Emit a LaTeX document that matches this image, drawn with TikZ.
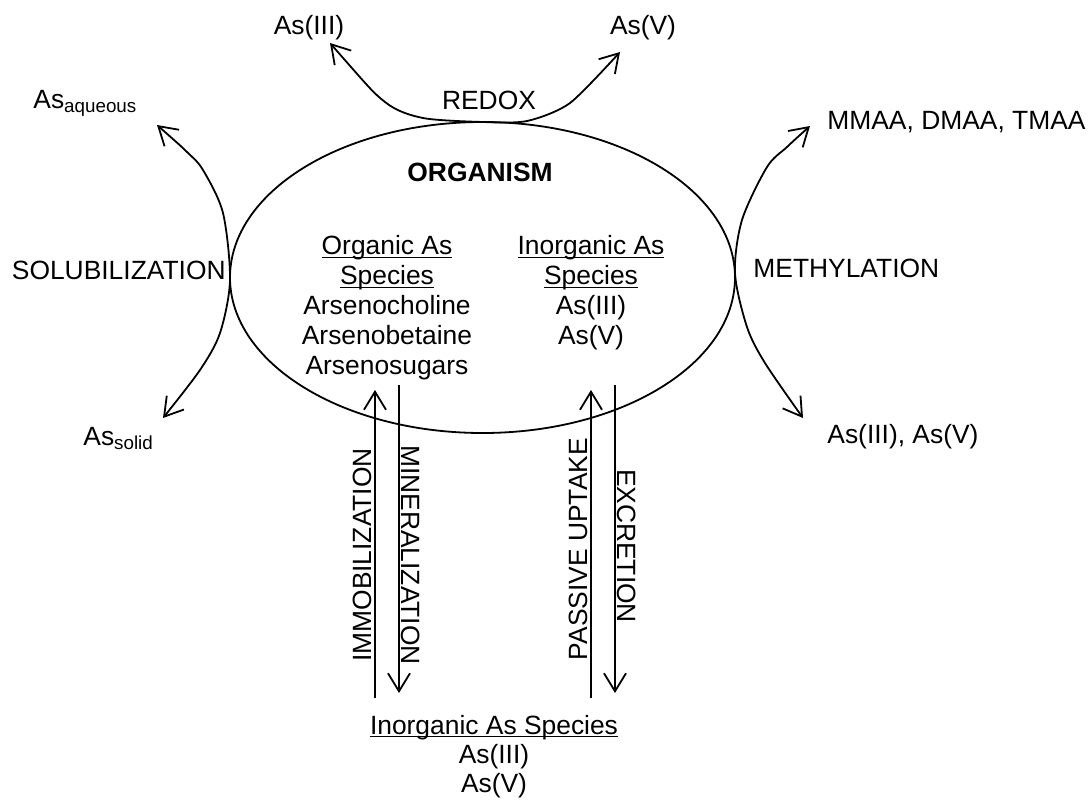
\documentclass[tikz,border=0pt]{standalone}
\usepackage{fontspec}
\setmainfont{Liberation Sans}
\usetikzlibrary{shapes.geometric,arrows.meta}
\newcommand{\myul}[1]{\underline{\smash{#1}}}
\newcommand{\mysub}[1]{\raisebox{-2.2pt}{\fontsize{9.4}{9.4}\selectfont #1}}
\begin{document}
\begin{tikzpicture}[x=0.5pt,y=-0.5pt,
  txt/.style={inner sep=0pt, font=\fontsize{13.2}{15}\selectfont},
  flow/.style={line width=0.9pt, arrows={Straight Barb[length=9pt,width=11pt]-Straight Barb[length=9pt,width=11pt]}},
  oneway/.style={line width=0.9pt, -{Straight Barb[length=9pt,width=11pt]}}]
\useasboundingbox (0,0) rectangle (1089,800);
\fill[white] (0,0) rectangle (1089,800);

% organism ellipse
\node[draw, ellipse, line width=0.9pt, minimum width=252.5pt, minimum height=155.5pt, inner sep=0pt] (org) at (482.5,277.5) {};
\node[txt, font=\fontsize{13.2}{15}\selectfont\bfseries] (orgname) at (480,172) {ORGANISM};
\node[txt, align=center] (orgsp) at (387,317) {\myul{Organic As}\\\myul{Species}\\Arsenocholine\\Arsenobetaine\\Arsenosugars};
\node[txt, align=center] (inorgsp) at (591,302) {\myul{Inorganic As}\\\myul{Species}\\As(III)\\As(V)};

% top: redox
\node[txt] (as3top) at (309,28) {As(III)};
\node[txt] (as5top) at (643,28) {As(V)};
\node[txt] (redox) at (489,100) {REDOX};
\coordinate (r1) at (330,43);
\coordinate (r7) at (620,52);
\draw[flow] plot[smooth, tension=0.45] coordinates {(r1) (385,102) (423,118) (483,122) (527,121) (570,103) (r7)};

% left: solubilization
\node[txt, anchor=base west] (asaq) at (33,108) {As\mysub{aqueous}};
\node[txt, anchor=base west] (assol) at (83,445) {As\mysub{solid}};
\node[txt, anchor=east] (solub) at (226,270) {SOLUBILIZATION};
\coordinate (s1) at (157,125);
\coordinate (s8) at (163,418);
\draw[flow] plot[smooth, tension=0.5] coordinates {(s1) (187,152) (203,170) (223,213) (230,280) (220,333) (200,370) (s8)};

% right: methylation
\node[txt, anchor=west] (mmaa) at (827,122) {MMAA, DMAA, TMAA};
\node[txt, anchor=west] (meth) at (753,268) {METHYLATION};
\node[txt, anchor=west] (as35) at (827,437) {As(III), As(V)};
\coordinate (m1) at (810,126);
\coordinate (m8) at (803,418);
\draw[flow] plot[smooth, tension=0.5] coordinates {(m1) (787,147) (767,167) (742,220) (735,273) (747,327) (765,363) (m8)};

% bottom
\node[txt, align=center, font=\fontsize{13.2}{14.6}\selectfont] (bottom) at (494,766) {\myul{Inorganic As Species}\\As(III)\\As(V)};
\coordinate (imB) at (375,698);
\coordinate (imT) at (375,390);
\coordinate (miT) at (399,385);
\coordinate (miB) at (399,693);
\coordinate (puB) at (591,698);
\coordinate (puT) at (591,390);
\coordinate (exT) at (615,385);
\coordinate (exB) at (615,693);
\draw[oneway] (imB) -- (imT);
\draw[oneway] (miT) -- (miB);
\draw[oneway] (puB) -- (puT);
\draw[oneway] (exT) -- (exB);
\node[txt, rotate=90] (immob) at (362,555) {IMMOBILIZATION};
\node[txt, rotate=-90] (miner) at (411,555) {MINERALIZATION};
\node[txt, rotate=90] (passive) at (578,549) {PASSIVE UPTAKE};
\node[txt, rotate=-90] (excr) at (627,546) {EXCRETION};
\end{tikzpicture}
\end{document}
